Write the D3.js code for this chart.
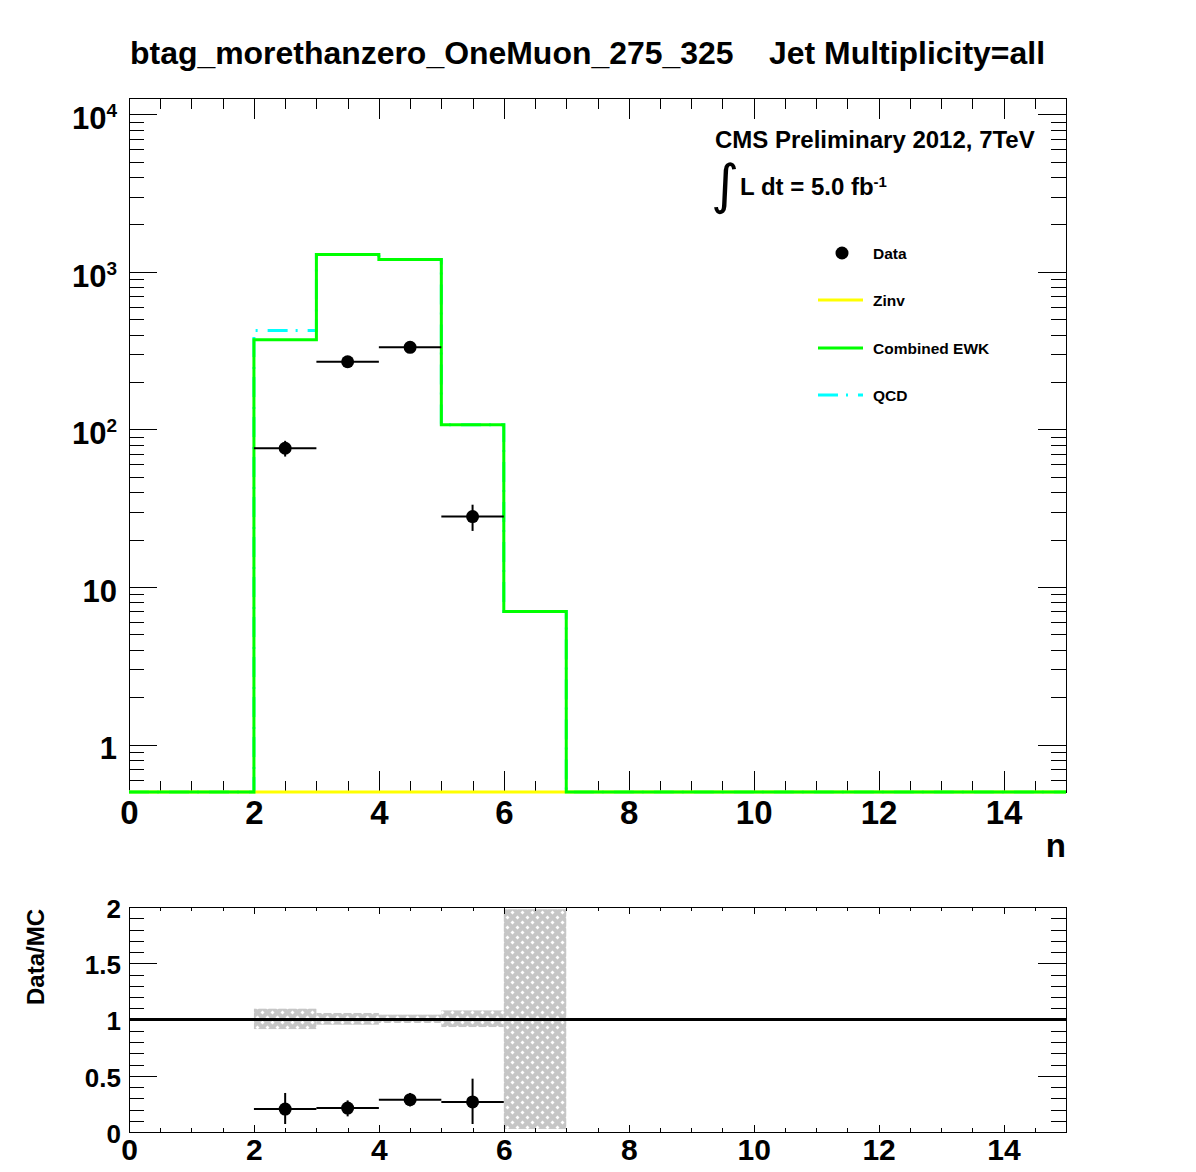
<!DOCTYPE html>
<html><head><meta charset="utf-8">
<script src="https://cdn.jsdelivr.net/npm/d3@7"></script>
<style>
body{margin:0;background:#fff}
text{font-family:"Liberation Sans",Arial,Helvetica,sans-serif;font-weight:bold;fill:#000}
</style>
</head><body>
<svg id="c" width="1196" height="1172"></svg>
<script>
// ---------------- data ----------------
const binEdges = [0,1,2,3,4,5,6,7,8,9,10,11,12,13,14,15];
const ewk  = [0,0,371,1291,1200,107,7,0,0,0,0,0,0,0,0];
const qcd  = [0,0,424,1291,1200,107,7,0,0,0,0,0,0,0,0];
const zinv = [0,0,0,0,0,0,0,0,0,0,0,0,0,0,0];
const dataX   = [2.5,3.5,4.5,5.5];
const dataY   = [76,269,332,28];
const dataErr = [8.7,16.4,18.2,5.3];
const ratioY  = [0.204,0.213,0.287,0.267];
const ratioLo = [0.071,0.139,0.228,0.071];
const ratioHi = [0.347,0.281,0.347,0.474];
const bandBins = [2,3,4,5,6];
const bandLo = [0.915,0.954,0.969,0.933,0.027];
const bandHi = [1.096,1.058,1.043,1.081,1.98];
const xMajorTicks = [0,2,4,6,8,10,12,14];
const xMinorTicks = [0,0.5,1,1.5,2,2.5,3,3.5,4,4.5,5,5.5,6,6.5,7,7.5,8,8.5,9,9.5,10,10.5,11,11.5,12,12.5,13,13.5,14,14.5,15];
const yMajorTicks = [1,10,100,1000,10000];
const yTickBase = ["1","10","10","10","10"];
const yTickExp  = ["","","2","3","4"];
const yMinorTicks = [0.5,0.6,0.7,0.8,0.9,2,3,4,5,6,7,8,9,20,30,40,50,60,70,80,90,200,300,400,500,600,700,800,900,2000,3000,4000,5000,6000,7000,8000,9000];
const rMajorTicks = [0,0.5,1,1.5,2];
const rMinorTicks = [0,0.1,0.2,0.3,0.4,0.5,0.6,0.7,0.8,0.9,1,1.1,1.2,1.3,1.4,1.5,1.6,1.7,1.8,1.9,2];
const legendLabels = ["Data","Zinv","Combined EWK","QCD"];
const titleText = "btag_morethanzero_OneMuon_275_325    Jet Multiplicity=all";

// ---------------- layout ----------------
const L = 129, R = 1066;
const T1 = 98, B1 = 792;
const T2 = 907, B2 = 1132;
const svg = d3.select("#c");

const x = d3.scaleLinear().domain([0,15]).range([L,R]);
const y = d3.scaleLog().domain([0.5,12700]).range([B1,T1]);
const yr = d3.scaleLinear().domain([0,2]).range([B2,T2]);

// defs
const defs = svg.append("defs");
const pat = defs.append("pattern").attr("id","hatch").attr("patternUnits","userSpaceOnUse")
  .attr("width",10).attr("height",10);
pat.append("rect").attr("width",10).attr("height",10).attr("fill","#c6c6c6");
[[2.5,2.5],[7.5,7.5]].forEach(([cx,cy])=>{
  pat.append("path").attr("d",`M${cx},${cy-2}L${cx+2},${cy}L${cx},${cy+2}L${cx-2},${cy}Z`).attr("fill","#fff");
});
defs.append("clipPath").attr("id","clipR").append("rect").attr("x",L).attr("y",T2).attr("width",R-L).attr("height",B2-T2);

// title
svg.append("text").attr("x",130).attr("y",64).style("font-size","32px").style("white-space","pre")
  .attr("textLength",915).attr("lengthAdjust","spacingAndGlyphs").text(titleText);

// ---------------- top panel ----------------
const topG = svg.append("g");
topG.append("rect").attr("x",L).attr("y",T1).attr("width",R-L).attr("height",B1-T1)
  .attr("fill","#fff").attr("stroke","#000").attr("stroke-width",1).attr("shape-rendering","crispEdges");

function styleAxis(g){ g.select(".domain").remove(); g.selectAll(".tick line").attr("stroke","#000").attr("stroke-width",1).attr("shape-rendering","crispEdges"); }

// x axes top panel
topG.append("g").attr("transform",`translate(0,${B1})`)
  .call(d3.axisBottom(x).tickValues(xMinorTicks).tickSize(-11).tickSizeOuter(0).tickFormat(""))
  .call(styleAxis);
const xb = topG.append("g").attr("transform",`translate(0,${B1})`)
  .call(d3.axisBottom(x).tickValues(xMajorTicks).tickSize(-21).tickSizeOuter(0).tickPadding(9).tickFormat(d3.format("d")))
  .call(styleAxis);
xb.attr("font-family",null).attr("font-size",null);
xb.selectAll("text").style("font-size","33px");
topG.append("g").attr("transform",`translate(0,${T1})`)
  .call(d3.axisTop(x).tickValues(xMinorTicks).tickSize(-11).tickSizeOuter(0).tickFormat("")).call(styleAxis);
topG.append("g").attr("transform",`translate(0,${T1})`)
  .call(d3.axisTop(x).tickValues(xMajorTicks).tickSize(-21).tickSizeOuter(0).tickFormat("")).call(styleAxis);

// y axes top panel
topG.append("g").attr("transform",`translate(${L},0)`)
  .call(d3.axisLeft(y).tickValues(yMinorTicks).tickSize(-15).tickSizeOuter(0).tickFormat("")).call(styleAxis);
const yl = topG.append("g").attr("transform",`translate(${L},0)`)
  .call(d3.axisLeft(y).tickValues(yMajorTicks).tickSize(-28).tickSizeOuter(0).tickPadding(12).tickFormat(""))
  .call(styleAxis);
yl.attr("font-family",null).attr("font-size",null);
yl.selectAll(".tick text").each(function(d,i){
  const t = d3.select(this).attr("dy","0.46em").style("font-size","31px");
  t.text(null);
  t.append("tspan").text(yTickBase[i]);
  if (yTickExp[i]) t.append("tspan").attr("dy","-0.62em").style("font-size","19px").text(yTickExp[i]);
});
topG.append("g").attr("transform",`translate(${R},0)`)
  .call(d3.axisRight(y).tickValues(yMinorTicks).tickSize(-15).tickSizeOuter(0).tickFormat("")).call(styleAxis);
topG.append("g").attr("transform",`translate(${R},0)`)
  .call(d3.axisRight(y).tickValues(yMajorTicks).tickSize(-28).tickSizeOuter(0).tickFormat("")).call(styleAxis);

// histograms
const ymin = y.domain()[0];
function histPts(vals){
  const pts = vals.map((v,i)=>[binEdges[i], Math.max(v,ymin)]);
  pts.push([binEdges[vals.length], Math.max(vals[vals.length-1],ymin)]);
  return pts;
}
const stepLine = d3.line().x(d=>x(d[0])).y(d=>y(d[1])).curve(d3.curveStepAfter);
topG.append("path").attr("d",stepLine(histPts(qcd))).attr("fill","none").attr("stroke","#00ffff")
  .attr("stroke-width",3).attr("stroke-dasharray","20,8,2,10");
topG.append("path").attr("d",stepLine(histPts(zinv))).attr("fill","none").attr("stroke","#ffff00").attr("stroke-width",3);
topG.append("path").attr("d",stepLine(histPts(ewk))).attr("fill","none").attr("stroke","#00ff00").attr("stroke-width",3);

// data points
const dg = topG.append("g");
dataX.forEach((xv,i)=>{
  dg.append("line").attr("x1",x(xv-0.5)).attr("x2",x(xv+0.5)).attr("y1",y(dataY[i])).attr("y2",y(dataY[i]))
    .attr("stroke","#000").attr("stroke-width",2);
  dg.append("line").attr("x1",x(xv)).attr("x2",x(xv)).attr("y1",y(dataY[i]-dataErr[i])).attr("y2",y(dataY[i]+dataErr[i]))
    .attr("stroke","#000").attr("stroke-width",2);
  dg.append("circle").attr("cx",x(xv)).attr("cy",y(dataY[i])).attr("r",6.5).attr("fill","#000");
});

// x title
svg.append("text").attr("x",R).attr("y",857).attr("text-anchor","end").style("font-size","33px").text("n");

// CMS text
svg.append("text").attr("x",715).attr("y",148).style("font-size","24px").text("CMS Preliminary 2012, 7TeV");
svg.append("text").attr("x",711).attr("y",203).style("font-size","54px").style("font-weight","normal")
  .style("font-family","'DejaVu Sans'").text("\u222B");
const lum = svg.append("text").attr("x",740).attr("y",195).style("font-size","24px");
lum.append("tspan").text("L dt = 5.0 fb");
lum.append("tspan").attr("dy","-0.55em").style("font-size","15px").text("-1");

// legend
const legY = [253,300,348,395];
const lg = svg.append("g");
lg.append("circle").attr("cx",842).attr("cy",legY[0]).attr("r",6.5).attr("fill","#000");
lg.append("line").attr("x1",818).attr("x2",863).attr("y1",legY[1]).attr("y2",legY[1]).attr("stroke","#ffff00").attr("stroke-width",3);
lg.append("line").attr("x1",818).attr("x2",863).attr("y1",legY[2]).attr("y2",legY[2]).attr("stroke","#00ff00").attr("stroke-width",3);
lg.append("line").attr("x1",818).attr("x2",863).attr("y1",legY[3]).attr("y2",legY[3]).attr("stroke","#00ffff").attr("stroke-width",3).attr("stroke-dasharray","20,8,2,10");
legendLabels.forEach((lab,i)=>{
  lg.append("text").attr("x",873).attr("y",legY[i]+5.5).style("font-size","15.5px").text(lab);
});

// ---------------- ratio panel ----------------
const rp = svg.append("g");
rp.append("rect").attr("x",L).attr("y",T2).attr("width",R-L).attr("height",B2-T2)
  .attr("fill","#fff").attr("stroke","#000").attr("stroke-width",1).attr("shape-rendering","crispEdges");

// band
rp.append("g").attr("clip-path","url(#clipR)").selectAll("rect").data(bandBins).join("rect")
  .attr("x",d=>x(d)).attr("width",d=>x(d+1)-x(d))
  .attr("y",(d,i)=>yr(bandHi[i])).attr("height",(d,i)=>yr(bandLo[i])-yr(bandHi[i]))
  .attr("fill","url(#hatch)");

rp.append("g").attr("transform",`translate(0,${B2})`)
  .call(d3.axisBottom(x).tickValues(xMinorTicks).tickSize(-4).tickSizeOuter(0).tickFormat("")).call(styleAxis);
const xr = rp.append("g").attr("transform",`translate(0,${B2})`)
  .call(d3.axisBottom(x).tickValues(xMajorTicks).tickSize(-7).tickSizeOuter(0).tickPadding(7).tickFormat(d3.format("d")))
  .call(styleAxis);
xr.attr("font-family",null).attr("font-size",null);
xr.selectAll("text").style("font-size","30px");
rp.append("g").attr("transform",`translate(0,${T2})`)
  .call(d3.axisTop(x).tickValues(xMinorTicks).tickSize(-4).tickSizeOuter(0).tickFormat("")).call(styleAxis);
rp.append("g").attr("transform",`translate(0,${T2})`)
  .call(d3.axisTop(x).tickValues(xMajorTicks).tickSize(-7).tickSizeOuter(0).tickFormat("")).call(styleAxis);

rp.append("g").attr("transform",`translate(${L},0)`)
  .call(d3.axisLeft(yr).tickValues(rMinorTicks).tickSize(-15).tickSizeOuter(0).tickFormat("")).call(styleAxis);
const yrl = rp.append("g").attr("transform",`translate(${L},0)`)
  .call(d3.axisLeft(yr).tickValues(rMajorTicks).tickSize(-28).tickSizeOuter(0).tickPadding(8).tickFormat(d=>String(d)))
  .call(styleAxis);
yrl.attr("font-family",null).attr("font-size",null);
yrl.selectAll("text").style("font-size","26px").attr("dy","0.4em");
rp.append("g").attr("transform",`translate(${R},0)`)
  .call(d3.axisRight(yr).tickValues(rMinorTicks).tickSize(-15).tickSizeOuter(0).tickFormat("")).call(styleAxis);
rp.append("g").attr("transform",`translate(${R},0)`)
  .call(d3.axisRight(yr).tickValues(rMajorTicks).tickSize(-28).tickSizeOuter(0).tickFormat("")).call(styleAxis);

// unity line
rp.append("line").attr("x1",x(0)).attr("x2",x(15)).attr("y1",yr(1)).attr("y2",yr(1)).attr("stroke","#000").attr("stroke-width",3);

// ratio points
dataX.forEach((xv,i)=>{
  rp.append("line").attr("x1",x(xv-0.5)).attr("x2",x(xv+0.5)).attr("y1",yr(ratioY[i])).attr("y2",yr(ratioY[i]))
    .attr("stroke","#000").attr("stroke-width",2);
  rp.append("line").attr("x1",x(xv)).attr("x2",x(xv)).attr("y1",yr(ratioLo[i])).attr("y2",yr(ratioHi[i]))
    .attr("stroke","#000").attr("stroke-width",2);
  rp.append("circle").attr("cx",x(xv)).attr("cy",yr(ratioY[i])).attr("r",6.5).attr("fill","#000");
});

// ratio y title
svg.append("text").attr("transform","translate(44,957) rotate(-90)").attr("text-anchor","middle")
  .style("font-size","24px").text("Data/MC");
</script>
</body></html>
